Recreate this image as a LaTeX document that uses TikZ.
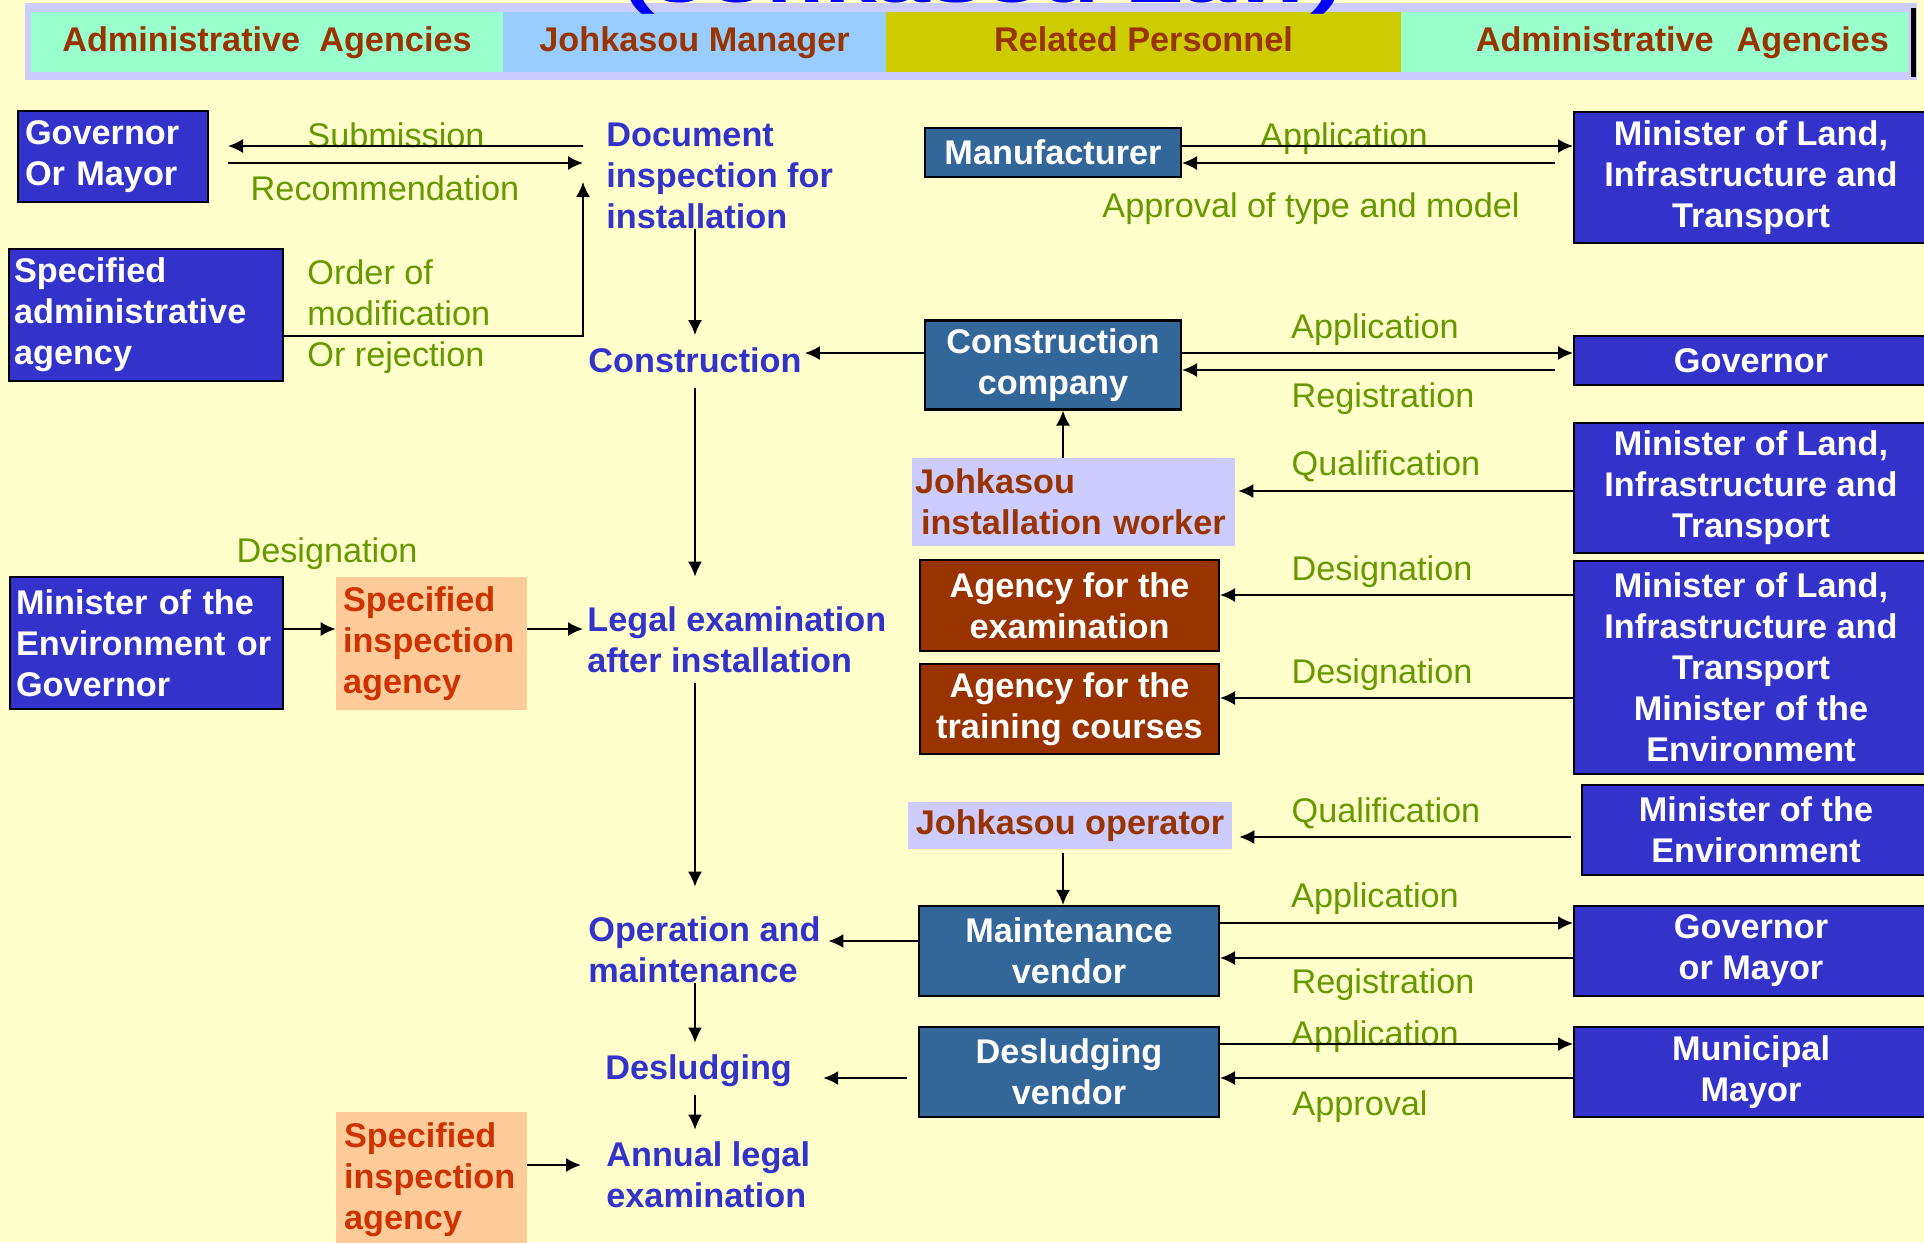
\documentclass[tikz,border=0pt]{standalone}
\usepackage{fontspec}
\setmainfont{Liberation Sans}
\usepackage{graphicx}
\usepackage{tikz}
\usetikzlibrary{calc,positioning,arrows.meta}
\definecolor{paper}{HTML}{FFFFCC}
\definecolor{bandlav}{HTML}{CCCCFF}
\definecolor{cellgreen}{HTML}{99FFCC}
\definecolor{cellblue}{HTML}{99CCFF}
\definecolor{cellolive}{HTML}{CCCC00}
\definecolor{rust}{HTML}{993300}
\definecolor{admblue}{HTML}{3333CC}
\definecolor{steel}{HTML}{336699}
\definecolor{lblgreen}{HTML}{669900}
\definecolor{insporange}{HTML}{FFCC99}
\definecolor{insptext}{HTML}{CC3300}
\definecolor{titleblue}{HTML}{0000FF}
\newcommand{\diagfont}{\fontsize{19.5pt}{23.3pt}\selectfont}
\tikzstyle{block} = [rectangle, draw=black, line width=1.2pt, text=white,
    font=\diagfont\bfseries, align=center, inner sep=0pt]
\tikzstyle{admin} = [block, fill=admblue]
\tikzstyle{firm} = [block, fill=steel]
\tikzstyle{agency} = [block, fill=rust]
\tikzstyle{person} = [rectangle, fill=bandlav, text=rust, font=\diagfont\bfseries, inner sep=0pt]
\tikzstyle{inspect} = [rectangle, fill=insporange, text=insptext, font=\diagfont\bfseries, inner sep=0pt]
\tikzstyle{stage} = [text=admblue, font=\diagfont\bfseries, align=left, inner sep=0pt]
\tikzstyle{act} = [text=lblgreen, font=\diagfont, inner sep=0pt]
\tikzstyle{hdr} = [rectangle, text=rust, font=\diagfont\bfseries, minimum height=1.2cm,
    inner sep=0pt, text height=0.5cm, text depth=0.14cm]
\tikzstyle{line} = [draw, line width=1pt, -{Latex[length=0.3cm,width=0.28cm]}]

\begin{document}
\begin{tikzpicture}[x=0.02cm, y=-0.02cm]
        \useasboundingbox (0,0) rectangle (1924,1242);
        \fill [paper] (0,0) rectangle (1924,1242);
        \clip (0,0) rectangle (1924,1242);
        % Header
        \fill [bandlav] (25,3) rectangle (1917,80);
        \node [hdr, fill=cellgreen, minimum width=9.44cm] (hdrA) at (267,42) {Administrative\ \ Agencies};
        \node [hdr, fill=cellblue, minimum width=7.66cm] (hdrB) at (694.5,42) {Johkasou Manager};
        \node [hdr, fill=cellolive, minimum width=10.3cm] (hdrC) at (1143.5,42) {Related Personnel};
        \node [hdr, fill=cellgreen, text width=9.38cm, align=right, inner xsep=0.38cm] (hdrD) at (1654.5,42) {Administrative\ \ Agencies};
        \fill [black] (1911,8) rectangle (1916,77);
        \node [font=\fontsize{32.4pt}{36pt}\selectfont\bfseries, text=titleblue, anchor=base, inner sep=0pt] (title) at (983,2) {\scalebox{1.67}[1]{(Johkasou Law)}};
        % Place nodes
        \node [admin, align=left, inner xsep=0.14cm, text width=3.52cm, minimum height=1.82cm] (govmayor) at (113,156.5) {Governor\\Or Mayor};
        \node [admin, align=left, inner xsep=0.1cm, text width=5.28cm, minimum height=2.64cm] (spadmin) at (146,315) {Specified\\administrative\\agency};
        \node [admin, align=left, inner xsep=0.12cm, text width=5.22cm, minimum height=2.64cm] (minenv) at (146.5,643) {Minister of the\\Environment or\\Governor};
        \node [inspect, align=left, inner xsep=0.14cm, text width=3.54cm, minimum height=2.66cm] (inspA) at (431.5,643.5) {Specified\\inspection\\agency};
        \node [inspect, align=left, inner xsep=0.16cm, text width=3.5cm, minimum height=2.72cm] (inspB) at (431.5,1180) {Specified\\inspection\\agency};
        \node [stage, anchor=west] (docinsp) at (606,176) {Document\\inspection for\\installation};
        \node [stage] (constr) at (695,360) {Construction};
        \node [stage, anchor=west] (legal) at (587,640) {Legal examination\\after installation};
        \node [stage, anchor=west] (oper) at (588,950) {Operation and\\maintenance};
        \node [stage, anchor=west] (desl) at (605,1071) {Desludging};
        \node [stage, anchor=west] (annual) at (606,1175) {Annual legal\\examination};
        \node [firm, minimum width=5.12cm, minimum height=0.98cm] (manuf) at (1053,152.5) {Manufacturer};
        \node [firm, minimum width=5.12cm, minimum height=1.78cm] (company) at (1053,365) {Construction\\company};
        \node [person, align=left, inner xsep=0.06cm, text width=6.34cm, minimum height=1.76cm] (worker) at (1073.5,502) {Johkasou\\\mbox{\hspace*{0.12cm}installation worker}};
        \node [agency, minimum width=5.98cm, minimum height=1.82cm] (agexam) at (1069.5,605.5) {Agency for the\\examination};
        \node [agency, minimum width=5.98cm, minimum height=1.8cm] (agtrain) at (1069.5,709) {Agency for the\\training courses};
        \node [person, minimum width=6.48cm, minimum height=0.94cm, text height=0.5cm, text depth=0.14cm] (operator) at (1070,825.5) {Johkasou operator};
        \node [firm, minimum width=6cm, minimum height=1.8cm] (maint) at (1069,951) {Maintenance\\vendor};
        \node [firm, minimum width=6cm, minimum height=1.8cm] (deslv) at (1069,1072) {Desludging\\vendor};
        \node [admin, minimum width=7.08cm, minimum height=2.62cm] (minland1) at (1751,177.5) {Minister of Land,\\Infrastructure and\\Transport};
        \node [admin, minimum width=7.08cm, minimum height=0.98cm] (govR) at (1751,360.5) {Governor};
        \node [admin, minimum width=7.08cm, minimum height=2.6cm] (minland2) at (1751,488) {Minister of Land,\\Infrastructure and\\Transport};
        \node [admin, minimum width=7.08cm, minimum height=4.26cm] (minbig) at (1751,667.5) {Minister of Land,\\Infrastructure and\\Transport\\Minister of the\\Environment};
        \node [admin, minimum width=6.96cm, minimum height=1.8cm] (minenvR) at (1756,830) {Minister of the\\Environment};
        \node [admin, minimum width=7.08cm, minimum height=1.8cm] (govmayorR) at (1751,951) {Governor\\or Mayor};
        \node [admin, minimum width=7.08cm, minimum height=1.8cm] (municipal) at (1751,1072) {Municipal\\Mayor};
        % Place edge texts
        \node [act, anchor=base] (tSub) at (396,147) {Submission};
        \node [act, anchor=base] (tRec) at (385,200) {Recommendation};
        \node [act, anchor=west, align=left] (tOrder) at (307,317) {Order of\\modification\\Or rejection};
        \node [act, anchor=base] (tDesA) at (327,562) {Designation};
        \node [act, anchor=base] (tAppA) at (1344,147) {Application};
        \node [act, anchor=base] (tType) at (1311,217) {Approval of type and model};
        \node [act, anchor=base] (tAppB) at (1375,338) {Application};
        \node [act, anchor=base] (tRegB) at (1383,407) {Registration};
        \node [act, anchor=base] (tQuaA) at (1386,475) {Qualification};
        \node [act, anchor=base] (tDesB) at (1382,580) {Designation};
        \node [act, anchor=base] (tDesC) at (1382,683) {Designation};
        \node [act, anchor=base] (tQuaB) at (1386,822) {Qualification};
        \node [act, anchor=base] (tAppC) at (1375,907) {Application};
        \node [act, anchor=base] (tRegC) at (1383,993) {Registration};
        \node [act, anchor=base] (tAppD) at (1375,1045) {Application};
        \node [act, anchor=base] (tApr) at (1360,1115) {Approval};
        % Draw edges
        \path [line] ([xshift=-0.46cm,yshift=0.6cm]docinsp.west) -- ([xshift=0.38cm,yshift=0.21cm]govmayor.east);
        \path [line] ([xshift=0.38cm,yshift=-0.13cm]govmayor.east) -- ([xshift=-0.46cm,yshift=0.26cm]docinsp.west);
        \path [line] ([yshift=-0.42cm]spadmin.east) -| ([xshift=-0.46cm,yshift=-0.12cm]docinsp.west);
        \path [line] (constr.north |- docinsp.south) -- ([yshift=0.24cm]constr.north);
        \path [line] ([yshift=-0.3cm]constr.south) -- ([yshift=0.6cm]constr.south |- legal.north);
        \path [line] ([yshift=-0.2cm]legal.south -| constr.south) -- ([yshift=0.6cm]oper.north -| constr.south);
        \path [line] (oper.south -| constr.south) -- ([yshift=0.24cm]desl.north -| constr.south);
        \path [line] ([yshift=-0.16cm]desl.south -| constr.south) -- ([yshift=0.24cm]annual.north -| constr.south);
        \path [line] ([yshift=0.24cm]company.west) -- ([yshift=0.24cm,xshift=0.06cm]company.west -| constr.east);
        \path [line] ([yshift=0.13cm]manuf.east) -- ([yshift=0.13cm]manuf.east -| minland1.west);
        \path [line] ([yshift=-0.21cm,xshift=-0.36cm]manuf.east -| minland1.west) -- ([yshift=-0.21cm]manuf.east);
        \path [line] ([yshift=0.24cm]company.east) -- ([yshift=0.24cm]company.east -| govR.west);
        \path [line] ([yshift=-0.1cm,xshift=-0.36cm]company.east -| govR.west) -- ([yshift=-0.1cm]company.east);
        \path [line] ([xshift=0.2cm]company.south |- worker.north) -- ([xshift=0.2cm]company.south);
        \path [line] ([yshift=-0.06cm]minland2.west) -- ([yshift=-0.06cm,xshift=0.06cm]minland2.west -| worker.east);
        \path [line] ([yshift=0.21cm]agexam.east -| minbig.west) -- ([yshift=0.21cm]agexam.east);
        \path [line] ([yshift=0.22cm]agtrain.east -| minbig.west) -- ([yshift=0.22cm]agtrain.east);
        \path [line] ([yshift=0.28cm]minenv.east) -- ([yshift=0.28cm]minenv.east -| inspA.west);
        \path [line] ([yshift=0.29cm]inspA.east) -- ([yshift=0.29cm,xshift=-0.08cm]inspA.east -| legal.west);
        \path [line] ([xshift=-0.2cm,yshift=-0.14cm]minenvR.west) -- ([xshift=0.14cm,yshift=-0.14cm]minenvR.west -| operator.east);
        \path [line] ([xshift=-0.14cm,yshift=-0.08cm]operator.south) -- ([xshift=-0.14cm]operator.south |- maint.north);
        \path [line] ([yshift=0.2cm]maint.west) -- ([yshift=0.2cm,xshift=0.15cm]maint.west -| oper.east);
        \path [line] ([yshift=0.56cm]maint.east) -- ([yshift=0.56cm]maint.east -| govmayorR.west);
        \path [line] ([yshift=-0.14cm]maint.east -| govmayorR.west) -- ([yshift=-0.14cm]maint.east);
        \path [line] ([xshift=-0.22cm,yshift=-0.12cm]deslv.west) -- ([xshift=0.62cm,yshift=-0.12cm]deslv.west -| desl.east);
        \path [line] ([yshift=0.56cm]deslv.east) -- ([yshift=0.56cm]deslv.east -| municipal.west);
        \path [line] ([yshift=-0.12cm]deslv.east -| municipal.west) -- ([yshift=-0.12cm]deslv.east);
        \path [line] ([yshift=0.3cm]inspB.east) -- ([yshift=0.3cm,xshift=-0.5cm]inspB.east -| annual.west);
    \end{tikzpicture}
\end{document}
